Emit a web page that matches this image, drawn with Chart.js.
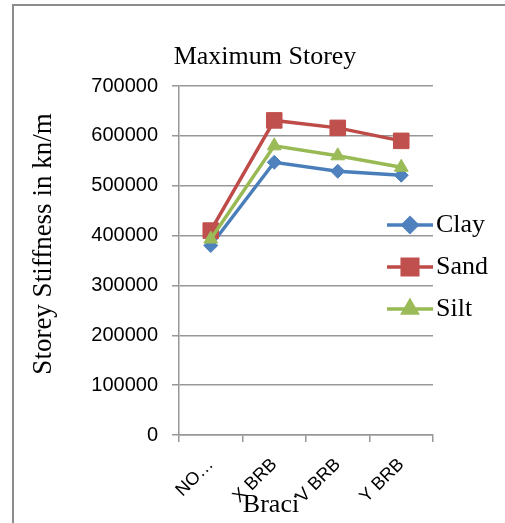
<!DOCTYPE html>
<html>
<head>
<meta charset="utf-8">
<script src="https://cdn.jsdelivr.net/npm/chart.js@4.4.1/dist/chart.umd.min.js"></script>
<style>
  html, body { margin: 0; padding: 0; background: #fff; }
  #wrap { position: relative; width: 505px; height: 523px; overflow: hidden; }
  #frame { position: absolute; left: 12px; top: 4px; width: 600px; height: 600px;
           border-left: 2px solid #8c8c8c; border-top: 2px solid #8c8c8c; }
  canvas { position: absolute; left: 0; top: 0; }
</style>
</head>
<body>
<div id="wrap">
  <div id="frame"></div>
  <canvas id="chart" width="505" height="523"></canvas>
</div>
<script>
// ===== DATA =====
const categories = ['NO…', 'X BRB', 'V BRB', 'Y BRB']
const clay = [380000, 547000, 529000, 521000]
const sand = [410000, 631000, 616000, 590000]
const silt = [393000, 580000, 560000, 537000]
const seriesNames = ['Clay', 'Sand', 'Silt']

const chartTitle = 'Maximum Storey'
const yTitle = 'Storey Stiffness in kn/m'
const xTitle = 'Braci'

const C = {
  clay: '#4A7EBB', clayFill: '#4F81BD',
  sand: '#BE4B48', sandFill: '#C0504D',
  silt: '#98B954', siltFill: '#9BBB59',
  grid: '#979797',
  text: '#000000',
}
const SERIF = '"Liberation Serif", "Times New Roman", serif'
const SANS = '"Liberation Sans", Arial, sans-serif'

// titles + overlapping legend, drawn like the office chart does
const extras = {
  id: 'extras',
  afterDraw(chart) {
    const ctx = chart.ctx
    const area = chart.chartArea
    ctx.save()
    ctx.fillStyle = C.text
    ctx.font = '26px ' + SERIF
    ctx.textAlign = 'center'
    ctx.textBaseline = 'middle'
    ctx.fillText(chartTitle, 265, 57)
    ctx.fillText(xTitle, 271, 505)
    ctx.save()
    ctx.translate(44, 244)
    ctx.rotate(-Math.PI / 2)
    ctx.font = '27px ' + SERIF
    ctx.fillText(yTitle, 0, 0)
    ctx.restore()

    // legend
    const x0 = area.right - 46, x1 = area.right
    chart.data.datasets.forEach((ds, i) => {
      const y = 225 + i * 42
      ctx.strokeStyle = ds.borderColor
      ctx.lineWidth = ds.borderWidth
      ctx.beginPath(); ctx.moveTo(x0, y); ctx.lineTo(x1, y); ctx.stroke()
      ctx.fillStyle = ds.pointBackgroundColor
      ctx.strokeStyle = ds.pointBorderColor
      Chart.helpers.drawPoint(ctx, {
        pointStyle: ds.pointStyle, radius: ds.pointRadius, rotation: 0, borderWidth: ds.pointBorderWidth
      }, (x0 + x1) / 2, y)
      ctx.fillStyle = C.text
      ctx.textAlign = 'left'
      ctx.fillText(ds.label, x1 + 3, y)
    })
    ctx.restore()
  }
}

function series(label, data, line, fill, style, radius, order) {
  return {
    label, data, order,
    borderColor: line, backgroundColor: fill, borderWidth: 3.5,
    pointStyle: style, pointRadius: radius, pointHoverRadius: radius,
    pointBackgroundColor: fill, pointBorderColor: fill, pointBorderWidth: 1,
    tension: 0, fill: false,
  }
}

new Chart(document.getElementById('chart'), {
  type: 'line',
  data: {
    labels: categories,
    datasets: [
      series(seriesNames[0], clay, C.clay, C.clayFill, 'rectRot', 7, 3),
      series(seriesNames[1], sand, C.sand, C.sandFill, 'rect', 11, 2),
      series(seriesNames[2], silt, C.silt, C.siltFill, 'triangle', 8, 1),
    ]
  },
  options: {
    responsive: false, animation: false, devicePixelRatio: 1,
    layout: { padding: { left: 0, top: 86, right: 72, bottom: 0 } },
    plugins: { legend: { display: false }, title: { display: false }, tooltip: { enabled: false } },
    scales: {
      x: {
        offset: true,
        grid: { offset: true, drawOnChartArea: false, color: C.grid, tickLength: 7, lineWidth: 1.5 },
        border: { color: C.grid, width: 1.5 },
        ticks: { color: C.text, font: { family: SANS, size: 18 }, minRotation: 45, maxRotation: 45, padding: 12, autoSkip: false },
        afterFit: s => { s.height = 88 },
      },
      y: {
        min: 0, max: 700000,
        grid: { color: C.grid, tickLength: 7, lineWidth: 1.5 },
        border: { color: C.grid, width: 1.5 },
        ticks: { color: C.text, font: { family: SANS, size: 20 }, stepSize: 100000, padding: 14, callback: v => String(v) },
        afterFit: s => { s.width = 179 },
      }
    }
  },
  plugins: [extras]
})
</script>
</body>
</html>
